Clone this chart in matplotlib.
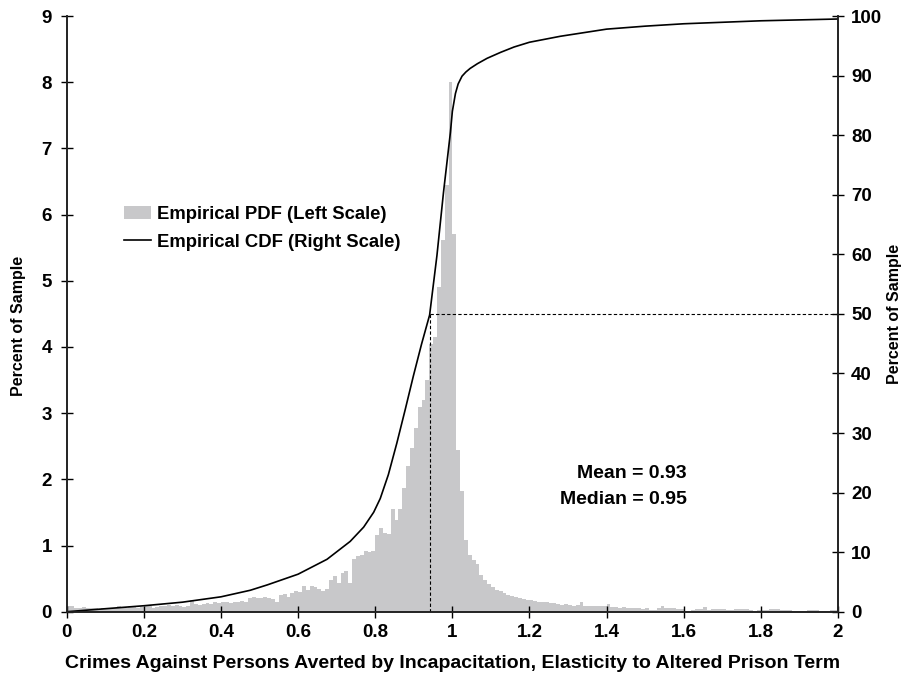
import numpy as np
import matplotlib
matplotlib.use('Agg')
import matplotlib.pyplot as plt
from matplotlib.ticker import FuncFormatter

plt.rcParams['font.family'] = ['Liberation Sans', 'DejaVu Sans']
plt.rcParams['font.weight'] = 'bold'

# empirical pdf, percent of sample per bin of width 0.01 from 0 to 2
pdf = [
    0.09, 0.08, 0.05, 0.06, 0.07, 0.06, 0.05, 0.05, 0.04, 0.05,
    0.05, 0.04, 0.06, 0.08, 0.07, 0.06, 0.08, 0.07, 0.06, 0.07,
    0.10, 0.09, 0.06, 0.07, 0.08, 0.09, 0.10, 0.09, 0.10, 0.08,
    0.07, 0.08, 0.18, 0.11, 0.10, 0.12, 0.13, 0.12, 0.14, 0.13,
    0.14, 0.15, 0.13, 0.15, 0.14, 0.16, 0.15, 0.20, 0.22, 0.21,
    0.20, 0.22, 0.20, 0.19, 0.15, 0.25, 0.27, 0.22, 0.28, 0.31,
    0.30, 0.39, 0.33, 0.39, 0.37, 0.34, 0.32, 0.35, 0.48, 0.54,
    0.43, 0.58, 0.61, 0.44, 0.80, 0.84, 0.86, 0.92, 0.90, 0.91,
    1.16, 1.26, 1.19, 1.18, 1.55, 1.39, 1.55, 1.87, 2.20, 2.48,
    2.78, 3.09, 3.20, 3.50, 4.05, 4.15, 4.90, 5.62, 6.45, 8.00,
    5.70, 2.45, 1.82, 1.09, 0.86, 0.78, 0.72, 0.56, 0.48, 0.42,
    0.37, 0.33, 0.31, 0.28, 0.25, 0.24, 0.22, 0.20, 0.19, 0.18,
    0.17, 0.16, 0.15, 0.15, 0.14, 0.13, 0.13, 0.12, 0.10, 0.11,
    0.10, 0.09, 0.10, 0.15, 0.09, 0.08, 0.09, 0.08, 0.09, 0.08,
    0.12, 0.07, 0.07, 0.06, 0.07, 0.055, 0.05, 0.06, 0.05, 0.035,
    0.05, 0.025, 0.025, 0.06, 0.085, 0.05, 0.05, 0.05, 0.045, 0.035,
    0.015, 0.015, 0.025, 0.035, 0.035, 0.075, 0.025, 0.035, 0.035, 0.035,
    0.035, 0.02, 0.025, 0.035, 0.035, 0.035, 0.035, 0.03, 0.015, 0.02,
    0.025, 0.03, 0.035, 0.035, 0.035, 0.03, 0.025, 0.025, 0.015, 0.015,
    0.015, 0.01, 0.025, 0.03, 0.025, 0.015, 0.01, 0.01, 0.02, 0.03,
]
bin_width = 0.01
bin_left = np.arange(len(pdf)) * bin_width

# empirical cdf (percent)
cdf_x = [0.0, 0.1, 0.2, 0.3, 0.4, 0.476, 0.52, 0.6, 0.675, 0.735, 0.77, 0.796,
         0.813, 0.834, 0.856, 0.878, 0.899, 0.92, 0.941, 0.96, 0.977, 0.995, 1.0,
         1.008, 1.015, 1.025, 1.035, 1.046, 1.065, 1.09, 1.125, 1.16, 1.2, 1.28,
         1.4, 1.5, 1.6, 1.8, 2.0]
cdf_y = [0.0, 0.5, 1.0, 1.6, 2.5, 3.6, 4.5, 6.3, 8.8, 11.8, 14.2, 16.7,
         19.0, 23.0, 28.3, 34.0, 39.6, 44.9, 49.8, 59.8, 70.4, 80.5, 84.0,
         87.0, 88.6, 89.9, 90.6, 91.2, 92.0, 92.9, 93.9, 94.8, 95.6, 96.6,
         97.8, 98.3, 98.7, 99.2, 99.5]

median_line_x = 0.942
half = 50

fig = plt.figure(figsize=(9.05, 6.79), dpi=100)
ax = fig.add_axes([0.0737, 0.0991, 0.8523, 0.8773])
ax2 = ax.twinx()

bars = ax.bar(bin_left, pdf, width=bin_width, align='edge', color='#c8c8ca',
              linewidth=0, label='Empirical PDF (Left Scale)')
line, = ax2.plot(cdf_x, cdf_y, color='black', lw=1.2, label='Empirical CDF (Right Scale)')
ax2.plot([median_line_x, median_line_x], [0, half], color='black', lw=0.8, dashes=(3, 2))
ax2.plot([median_line_x, 2.0], [half, half], color='black', lw=0.8, dashes=(3, 2))

ax.set_xlim(0, 2)
ax.set_ylim(0, 9)
ax2.set_ylim(0, 100)
ax.set_xticks(np.arange(0, 2.01, 0.2))
ax.xaxis.set_major_formatter(FuncFormatter(lambda v, p: '%g' % round(v, 1)))
ax.set_yticks(range(0, 10))
ax2.set_yticks(range(0, 101, 10))

for a in (ax, ax2):
    a.spines['top'].set_visible(False)
    for s in a.spines.values():
        s.set_linewidth(1.2)
        s.set_color('#222222')
    a.tick_params(direction='inout', length=9, width=1, labelsize=13.5, colors='black')
ax.tick_params(axis='x', pad=4)
ax.tick_params(axis='y', pad=6)
ax2.tick_params(axis='y', pad=5)

ax.set_xlabel('Crimes Against Persons Averted by Incapacitation, Elasticity to Altered Prison Term',
              fontsize=14, fontweight='bold')
ax.xaxis.set_label_coords(0.5, -0.073)
ax.set_ylabel('Percent of Sample', fontsize=11.5, fontweight='bold')
ax.yaxis.set_label_coords(-0.053, 0.48)
ax2.set_ylabel('Percent of Sample', fontsize=11.5, fontweight='bold', rotation=90)
ax2.yaxis.set_label_coords(1.064, 0.5)

ax.text(1.607, 2.085, 'Mean = 0.93', ha='right', va='center', fontsize=14, fontweight='bold')
ax.text(1.607, 1.695, 'Median = 0.95', ha='right', va='center', fontsize=14, fontweight='bold')

ax2.legend([bars, line], ['Empirical PDF (Left Scale)', 'Empirical CDF (Right Scale)'],
           loc='upper left', bbox_to_anchor=(0.062, 0.697), frameon=False, borderpad=0,
           fontsize=13.3, handlelength=1.5, handletextpad=0.3, labelspacing=0.6)

fig.savefig('out.png', dpi=100)
